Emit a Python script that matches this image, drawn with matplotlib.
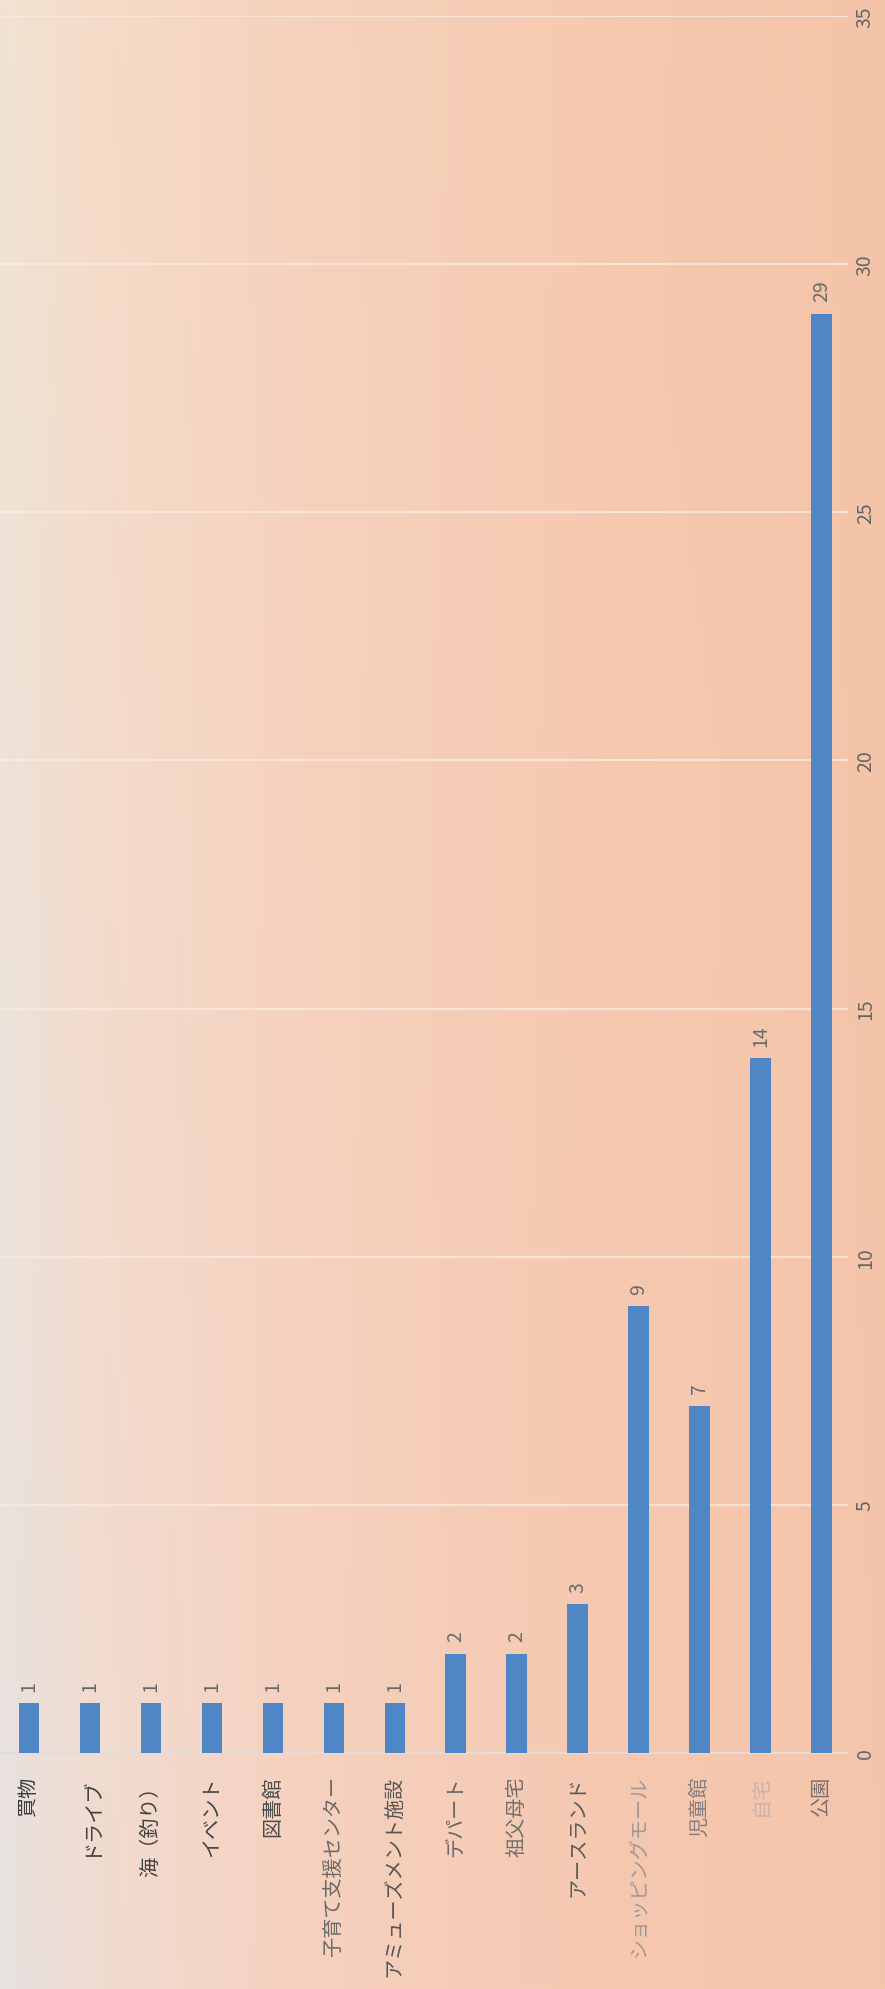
import numpy as np
import matplotlib
matplotlib.use("Agg")
import matplotlib.pyplot as plt
from matplotlib.colors import to_rgb

# ---- data ----
categories = ["買物", "ドライブ", "海（釣り）", "イベント", "図書館", "子育て支援センター",
              "アミューズメント施設", "デパート", "祖父母宅", "アースランド",
              "ショッピングモール", "児童館", "自宅", "公園"]
values = [1, 1, 1, 1, 1, 1, 1, 2, 2, 3, 9, 7, 14, 29]
value_ticks = [0, 5, 10, 15, 20, 25, 30, 35]

# ---- style ----
label_colors = ["#3c3c3c", "#404040", "#404040", "#454545", "#4a4a4a", "#6a6a6a", "#555555",
                "#666666", "#707070", "#5a5a5a", "#a09898", "#857c7a", "#c8b4aa", "#7a7070"]
bar_color = "#4f87c6"

plt.rcParams['font.family'] = ['Noto Sans CJK JP', 'DejaVu Sans']

W, H = 885, 1990
fig = plt.figure(figsize=(W / 100, H / 100), dpi=100)

# background (photographed paper gradient)
bg = fig.add_axes([0, 0, 1, 1], zorder=-10)
bg.set_axis_off()
xs = np.linspace(0, 1, 300)
ys = np.linspace(0, 1, 300)
stops = [0, 0.1, 0.35, 0.7, 1.0]
top_row = ['#f1e3d3', '#f5dcc8', '#f6d2bc', '#f5c9af', '#f4c4a8']
bot_row = ['#e7e2e0', '#f0dcd2', '#f6d1bf', '#f6c8b0', '#f5c5ab']
def row(cols):
    arr = np.array([to_rgb(c) for c in cols])
    return np.stack([np.interp(xs, stops, arr[:, k]) for k in range(3)], axis=-1)
tr, br = row(top_row), row(bot_row)
img = tr[None, :, :] * (1 - ys[:, None, None]) + br[None, :, :] * ys[:, None, None]
bg.imshow(img, extent=[0, 1, 0, 1], aspect='auto', origin='upper')
bg.set_xlim(0, 1); bg.set_ylim(0, 1)

# main axes
left_px, right_px, top_px, base_px = 0, 848, 17, 1754
ax = fig.add_axes([left_px / W, 1 - base_px / H, (right_px - left_px) / W, (base_px - top_px) / H])
ax.set_facecolor('none')

x = np.arange(len(categories))
bars = ax.bar(x, values, width=0.34, color=bar_color, zorder=3)
ax.set_xlim(-0.475, 13.43)
ax.set_ylim(0, 35)

ax.set_yticks(value_ticks)
ax.yaxis.tick_right()
ax.set_yticklabels([str(v) for v in value_ticks], rotation=90, va='center', ha='left',
                   fontsize=14, color='#666666')
ax.tick_params(axis='y', length=0, pad=5)

ax.set_xticks(x)
ax.set_xticklabels(categories, rotation=90, ha='center', va='top', fontsize=14.5)
for lbl, c in zip(ax.get_xticklabels(), label_colors):
    lbl.set_color(c)
ax.tick_params(axis='x', length=0, pad=16)

ax.grid(axis='y', color='#fbeadf', linewidth=1.6, alpha=0.8, zorder=1)
ax.grid(axis='x', visible=False)
for s in ['top', 'right', 'left']:
    ax.spines[s].set_visible(False)
ax.spines['bottom'].set_color('#e2ddd9')
ax.spines['bottom'].set_linewidth(1.5)
ax.spines['bottom'].set_zorder(2)

ax.bar_label(bars, labels=[str(v) for v in values], padding=9, rotation=90,
             fontsize=14, color='#6a6a6a')

fig.savefig("out.png", dpi=100)
